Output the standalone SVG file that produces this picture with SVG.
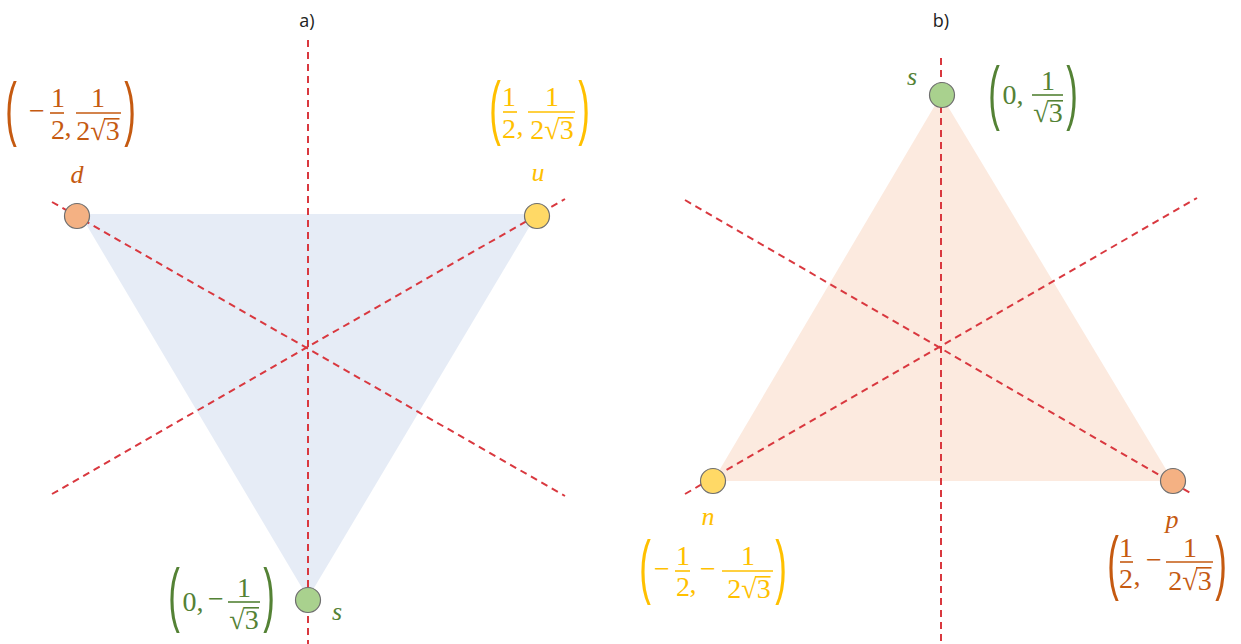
<svg xmlns="http://www.w3.org/2000/svg" width="1241" height="644" viewBox="0 0 1241 644">
<style>
.m{font-family:"Liberation Serif",serif;font-size:28px;text-anchor:middle}
.v{font-family:"Liberation Serif",serif;font-size:26px;font-style:italic;text-anchor:middle}
.pa{font-family:"Liberation Sans",sans-serif;font-size:24px;text-anchor:middle}
.t{font-family:"Open Sans","Liberation Sans",sans-serif;font-size:18px;text-anchor:middle;fill:#222}
.dash{stroke:#D9383F;stroke-width:2;stroke-dasharray:7 5;fill:none}
.node{stroke:#6E6E6E;stroke-width:1.2}
.or{fill:#C55A11}.ye{fill:#FFC000}.gr{fill:#548235}
.bo{stroke:#C55A11;stroke-width:1.6}.by{stroke:#FFC000;stroke-width:1.6}.bg{stroke:#548235;stroke-width:1.6}
</style>
<rect width="1241" height="644" fill="#fff"/>
<polygon points="80,214 537,214 308,598" fill="#E6ECF6"/>
<polygon points="941,95 713,481 1173,481" fill="#FCEADF"/>
<g id="connectors">
<line class="dash" x1="308" y1="40" x2="308" y2="644"/>
<line class="dash" x1="52" y1="202" x2="565" y2="496"/>
<line class="dash" x1="52" y1="494" x2="565" y2="199"/>
<line class="dash" x1="941" y1="58" x2="941" y2="644"/>
<line class="dash" x1="685" y1="200" x2="1192" y2="494"/>
<line class="dash" x1="685" y1="494" x2="1197" y2="198"/>
</g>
<text class="t" x="307" y="27">a)</text>
<text class="t" x="941" y="27">b)</text>
<g id="node-d">
<circle class="node" cx="77" cy="216" r="12.5" fill="#F4B183"/>
<text class="v or" x="77" y="183">d</text>
<g class="or">
<text class="pa" transform="translate(11,132) scale(1.45,2.95)">(</text>
<text class="m" x="37" y="120">−</text>
<text class="m" x="58" y="107">1</text>
<text class="m" x="58" y="139">2</text>
<text class="m" x="68" y="136">,</text>
<text class="m" x="98" y="107">1</text>
<text class="m" x="98" y="140">2√3</text>
<text class="pa" transform="translate(130,132) scale(1.45,2.95)">)</text>
</g>
<line class="bo" x1="50" y1="113" x2="64" y2="113"/>
<line class="bo" x1="76" y1="113" x2="121" y2="113"/>
<line class="bo" x1="104" y1="118.8" x2="119.5" y2="118.8"/>
</g>
<g id="node-u">
<circle class="node" cx="537" cy="216" r="12.5" fill="#FFD966"/>
<text class="v ye" x="538" y="181">u</text>
<g class="ye">
<text class="pa" transform="translate(495,131) scale(1.45,2.95)">(</text>
<text class="m" x="509" y="106">1</text>
<text class="m" x="509" y="138">2</text>
<text class="m" x="520" y="135">,</text>
<text class="m" x="552" y="106">1</text>
<text class="m" x="552" y="139">2√3</text>
<text class="pa" transform="translate(584,131) scale(1.45,2.95)">)</text>
</g>
<line class="by" x1="503" y1="112" x2="517" y2="112"/>
<line class="by" x1="528" y1="112" x2="575" y2="112"/>
<line class="by" x1="558" y1="117.8" x2="573.5" y2="117.8"/>
</g>
<g id="node-s-a">
<circle class="node" cx="308" cy="600" r="12.5" fill="#A9D18E"/>
<text class="v gr" x="337" y="620">s</text>
<g class="gr">
<text class="pa" transform="translate(174,618) scale(1.45,2.95)">(</text>
<text class="m" x="193" y="611">0,</text>
<text class="m" x="216" y="608">−</text>
<text class="m" x="244" y="597">1</text>
<text class="m" x="244" y="629">√3</text>
<text class="pa" transform="translate(269,618) scale(1.45,2.95)">)</text>
</g>
<line class="bg" x1="228" y1="602" x2="260" y2="602"/>
<line class="bg" x1="244" y1="607.8" x2="259" y2="607.8"/>
</g>
<g id="node-s-b">
<circle class="node" cx="942" cy="95" r="12.5" fill="#A9D18E"/>
<text class="v gr" x="912" y="85">s</text>
<g class="gr">
<text class="pa" transform="translate(994,116) scale(1.45,2.95)">(</text>
<text class="m" x="1013" y="104">0,</text>
<text class="m" x="1048" y="90">1</text>
<text class="m" x="1048" y="122">√3</text>
<text class="pa" transform="translate(1072,116) scale(1.45,2.95)">)</text>
</g>
<line class="bg" x1="1032" y1="95" x2="1063" y2="95"/>
<line class="bg" x1="1048" y1="100.8" x2="1063" y2="100.8"/>
</g>
<g id="node-n">
<circle class="node" cx="713" cy="481" r="12.5" fill="#FFD966"/>
<text class="v ye" x="708" y="525">n</text>
<g class="ye">
<text class="pa" transform="translate(645,590) scale(1.45,2.95)">(</text>
<text class="m" x="662" y="578">−</text>
<text class="m" x="683" y="565">1</text>
<text class="m" x="683" y="596">2</text>
<text class="m" x="693" y="593">,</text>
<text class="m" x="708" y="578">−</text>
<text class="m" x="748" y="565">1</text>
<text class="m" x="749" y="598">2√3</text>
<text class="pa" transform="translate(781,590) scale(1.45,2.95)">)</text>
</g>
<line class="by" x1="675" y1="571" x2="690" y2="571"/>
<line class="by" x1="722" y1="571" x2="773" y2="571"/>
<line class="by" x1="755" y1="576.8" x2="770.5" y2="576.8"/>
</g>
<g id="node-p">
<circle class="node" cx="1173" cy="481" r="12.5" fill="#F4B183"/>
<text class="v or" x="1172" y="528">p</text>
<g class="or">
<text class="pa" transform="translate(1113,586) scale(1.45,2.95)">(</text>
<text class="m" x="1126" y="557">1</text>
<text class="m" x="1126" y="588">2</text>
<text class="m" x="1137" y="585">,</text>
<text class="m" x="1154" y="569">−</text>
<text class="m" x="1190" y="557">1</text>
<text class="m" x="1190" y="590">2√3</text>
<text class="pa" transform="translate(1221,586) scale(1.45,2.95)">)</text>
</g>
<line class="bo" x1="1120" y1="562" x2="1133" y2="562"/>
<line class="bo" x1="1166" y1="562" x2="1213" y2="562"/>
<line class="bo" x1="1196" y1="567.8" x2="1211.5" y2="567.8"/>
</g>
</svg>
